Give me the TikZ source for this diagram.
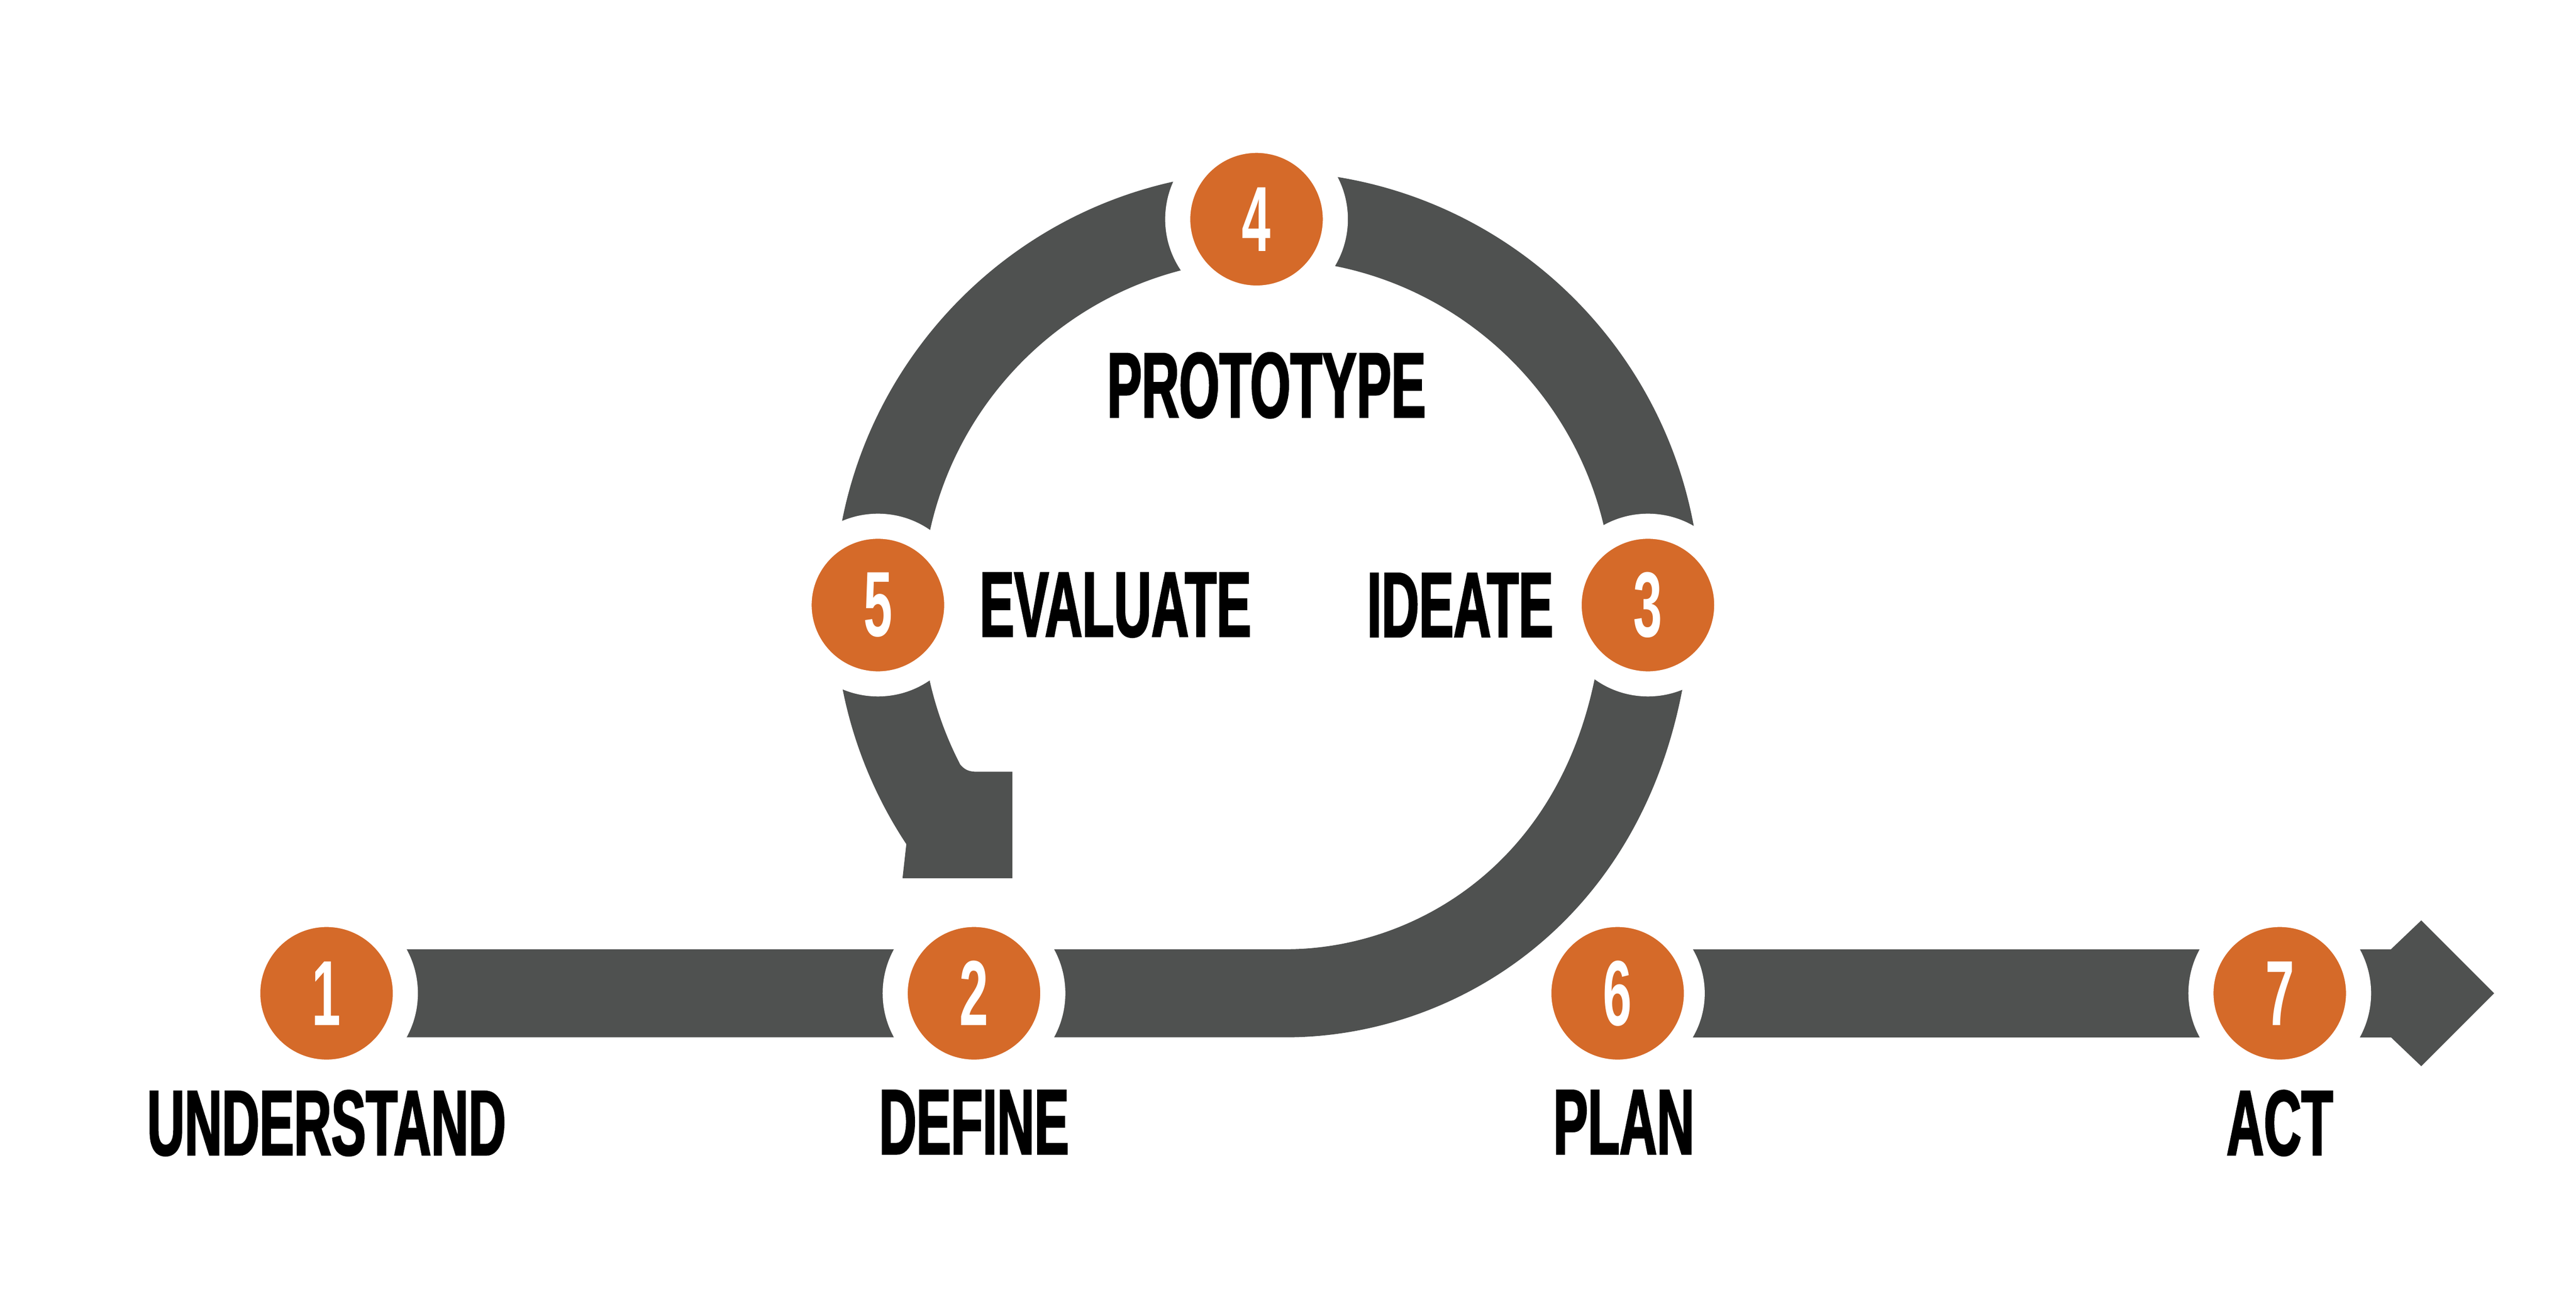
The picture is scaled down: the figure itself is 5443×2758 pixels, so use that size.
\documentclass[tikz,border=0pt]{standalone}
\usepackage{fontspec}
\usepackage{xcolor}
\usepackage{tikz}
\usetikzlibrary{positioning,backgrounds}

\newfontfamily\labelfont[FakeStretch=0.56, BoldFeatures={FakeBold=1.6}]{Liberation Sans}
\newfontfamily\digitfont[FakeStretch=0.56]{Liberation Sans}
\definecolor{trackgrey}{HTML}{4F5150}
\definecolor{steporange}{HTML}{D56A29}

\begin{document}
\begin{tikzpicture}[x=0.1mm, y=-0.1mm,
    stepnode/.style={circle, fill=steporange, draw=white, line width=5.3mm,
        minimum size=33.3mm, inner sep=0pt, text=white,
        font=\digitfont\bfseries\fontsize{55.6}{60}\selectfont},
    steplabel/.style={inner sep=0pt, outer sep=0pt, text=black,
        font=\labelfont\bfseries\fontsize{55.6}{60}\selectfont},
    track/.style={draw=trackgrey, line width=18.6mm}]

    \useasboundingbox (0,0) rectangle (5443,2758);

    % Steps
    \node[stepnode] (n1) at (690,2098) {1};
    \node[stepnode] (n2) at (2058,2098) {2};
    \node[stepnode] (n3) at (3482,1278) {3};
    \node[stepnode] (n4) at (2655,463) {4};
    \node[stepnode] (n5) at (1855,1278) {5};
    \node[stepnode, minimum size=32.4mm, line width=4.4mm] (n6) at (3418,2098) {6};
    \node[stepnode] (n7) at (4817,2098) {7};

    % Labels
    \node[steplabel, below=1.2mm of n1] (l1) {UNDERSTAND};
    \node[steplabel, below=1.2mm of n2] (l2) {DEFINE};
    \node[steplabel, left=0.7mm of n3] (l3) {IDEATE};
    \node[steplabel] (l4) at (2676,814) {PROTOTYPE};
    \node[steplabel, right=2.2mm of n5] (l5) {EVALUATE};
    \node[steplabel, below=2.1mm of n6, xshift=1.3mm] (l6) {PLAN};
    \node[steplabel, below=1.2mm of n7] (l7) {ACT};

    \coordinate (headbase) at (5060,2098);

    \begin{pgfonlayer}{background}
    % Background
    \fill[white] (0,0) rectangle (5443,2758);

    % Track from step 1 up to step 3
    \draw[track] (n1.center) -- (n2.center) -- (2717,2098)
        .. controls (3060,2098) and (3455,1845) .. (n3.center);

    % Loop over steps 3, 4 and 5
    \draw[track] (n5.center) arc[start angle=180, end angle=360, radius=823];

    % Tail below step 5
    \fill[trackgrey] (1763,1278) arc[start angle=180, end angle=146.5, radius=915]
        -- (1907,1855) -- (2139,1855) -- (2139,1630) -- (2062,1630)
        .. controls (2044,1630) and (2036,1623) .. (2029,1615)
        arc[start angle=152.55, end angle=180, radius=731] -- cycle;

    % Track from step 6 to the arrow
    \draw[track] (n6.center) -- (n7.center) -- (headbase);
    \fill[trackgrey] (5052,2005) -- (5116,1944) -- (5270,2098) -- (5116,2252)
        -- (5052,2191) -- cycle;
    \end{pgfonlayer}

\end{tikzpicture}
\end{document}
